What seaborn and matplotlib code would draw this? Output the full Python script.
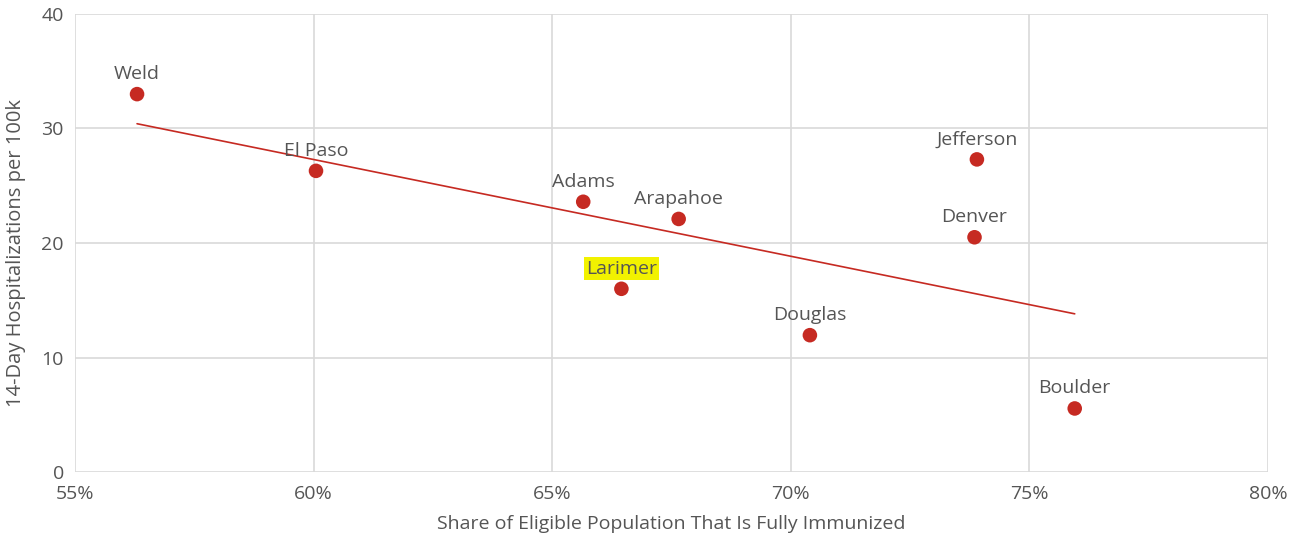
import pandas as pd
import numpy as np
import seaborn as sns
import matplotlib.pyplot as plt
from matplotlib.ticker import FuncFormatter

# county data
counties = ["Weld", "El Paso", "Adams", "Arapahoe", "Larimer",
            "Douglas", "Jefferson", "Denver", "Boulder"]
immunized = [56.3, 60.05, 65.65, 67.65, 66.45, 70.4, 73.9, 73.85, 75.95]
hosp_per_100k = [33.0, 26.3, 23.6, 22.1, 16.0, 11.95, 27.3, 20.5, 5.55]

x_ticks = [55, 60, 65, 70, 75, 80]
y_ticks = [0, 10, 20, 30, 40]

df = pd.DataFrame({"county": counties, "immunized": immunized,
                   "hosp": hosp_per_100k})

sns.set_style("white")
plt.rcParams['font.family'] = ['Open Sans', 'DejaVu Sans']

grey_txt = "#555555"
red = "#c62a22"

fig = plt.figure(figsize=(12.89, 5.37), dpi=100)
ax = fig.add_axes([0.0582, 0.121, 0.9255, 0.853])

# trend line (ordinary least squares, like the original)
sns.regplot(data=df, x="immunized", y="hosp", ax=ax, ci=None,
            scatter=False, line_kws={"color": red, "lw": 1.2, "zorder": 3})

sns.scatterplot(data=df, x="immunized", y="hosp", ax=ax, color=red,
                s=110, edgecolor="none", zorder=4)

for _, r in df.iterrows():
    kw = {}
    if r["county"] == "Larimer":
        kw["bbox"] = dict(boxstyle="square,pad=0.12", fc="#f2f200", ec="none")
    ax.annotate(r["county"], (r["immunized"], r["hosp"]), xytext=(0, 8),
                textcoords="offset points", ha="center", va="bottom",
                fontsize=14, color=grey_txt, zorder=5, **kw)

ax.set_xlim(55, 80)
ax.set_ylim(0, 40)
ax.set_xticks(x_ticks)
ax.set_yticks(y_ticks)
ax.xaxis.set_major_formatter(FuncFormatter(lambda v, p: f"{v:.0f}%"))
ax.grid(True, color="#d9d9d9", lw=1.2)
ax.set_axisbelow(True)
for s in ax.spines.values():
    s.set_visible(False)
ax.tick_params(axis="both", length=0, labelsize=14, colors=grey_txt)
ax.tick_params(axis="x", pad=9)
ax.tick_params(axis="y", pad=8)

ax.set_xlabel("Share of Eligible Population That Is Fully Immunized",
              fontsize=14, color=grey_txt, labelpad=9)
ax.set_ylabel("14-Day Hospitalizations per 100k", fontsize=14.5,
              color=grey_txt)
ax.yaxis.set_label_coords(-0.041, 0.478)

fig.savefig("out.png", dpi=100)
